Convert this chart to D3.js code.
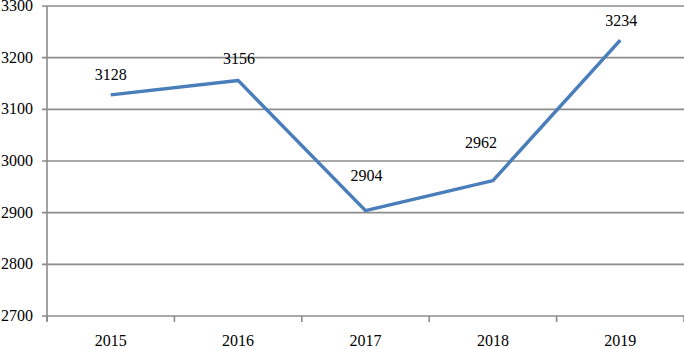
<!DOCTYPE html>
<html>
<head>
<meta charset="utf-8">
<script src="https://cdn.jsdelivr.net/npm/d3@7"></script>
<style>
  html, body { margin: 0; padding: 0; background: #fff; }
  svg { display: block; }
  svg text { font-family: "Liberation Serif", "DejaVu Serif", serif; }
</style>
</head>
<body>
<div id="chart"></div>
<script>
// 数据
const years = ["2015", "2016", "2017", "2018", "2019"];
const values = [3128, 3156, 2904, 2962, 3234];
const yTicks = [2700, 2800, 2900, 3000, 3100, 3200, 3300];

// 数据标签的偏移（手动摆放的位置）
const labelDx = [0, 1, 1, -12, 1];
const labelDy = [-15, -16, -30, -33, -14];

const W = 684, H = 349;
const plotLeft = 47, plotRight = 684, plotTop = 6, plotBottom = 316;
const FONT = "Liberation Serif, DejaVu Serif, serif";

const svg = d3.select("#chart")
    .append("svg")
    .attr("width", W)
    .attr("height", H)
    .attr("font-family", FONT);

const x = d3.scaleBand()
    .domain(years)
    .range([plotLeft, plotRight]);

const y = d3.scaleLinear()
    .domain([2700, 3300])
    .range([plotBottom, plotTop]);

// 网格线
svg.append("g")
    .selectAll("line")
    .data(yTicks)
    .join("line")
    .attr("x1", plotLeft - 5)
    .attr("x2", plotRight)
    .attr("y1", d => y(d))
    .attr("y2", d => y(d))
    .attr("stroke", "#8c8c8c")
    .attr("stroke-width", 1.6);

// Y 轴标签
svg.append("g")
    .selectAll("text")
    .data(yTicks)
    .join("text")
    .attr("x", 33)
    .attr("y", d => y(d) + 5)
    .attr("text-anchor", "end")
    .attr("fill", "#000")
    .attr("font-family", FONT)
    .style("font-size", "16px")
    .text(d => d);

// Y 轴线
svg.append("line")
    .attr("x1", plotLeft).attr("x2", plotLeft)
    .attr("y1", plotTop).attr("y2", plotBottom + 5)
    .attr("stroke", "#8c8c8c")
    .attr("stroke-width", 1.6);

// X 轴刻度（类别边界）
const bounds = years.map(d => x(d)).concat([x(years[years.length - 1]) + x.bandwidth()]);
svg.append("g")
    .selectAll("line")
    .data(bounds)
    .join("line")
    .attr("x1", d => d).attr("x2", d => d)
    .attr("y1", plotBottom).attr("y2", plotBottom + 6)
    .attr("stroke", "#8c8c8c")
    .attr("stroke-width", 1.6);

// X 轴标签
svg.append("g")
    .selectAll("text")
    .data(years)
    .join("text")
    .attr("x", d => x(d) + x.bandwidth() / 2)
    .attr("y", 346)
    .attr("text-anchor", "middle")
    .attr("fill", "#000")
    .attr("font-family", FONT)
    .style("font-size", "16px")
    .text(d => d);

// 折线
const line = d3.line()
    .x((d, i) => x(years[i]) + x.bandwidth() / 2)
    .y(d => y(d));

svg.append("path")
    .datum(values)
    .attr("d", line)
    .attr("fill", "none")
    .attr("stroke", "#4a7ebb")
    .attr("stroke-width", 3.5)
    .attr("stroke-linejoin", "round");

// 数据标签
svg.append("g")
    .selectAll("text")
    .data(values)
    .join("text")
    .attr("x", (d, i) => x(years[i]) + x.bandwidth() / 2 + labelDx[i])
    .attr("y", (d, i) => y(d) + labelDy[i])
    .attr("text-anchor", "middle")
    .attr("fill", "#000")
    .attr("font-family", FONT)
    .style("font-size", "16px")
    .text(d => d);
</script>
</body>
</html>
